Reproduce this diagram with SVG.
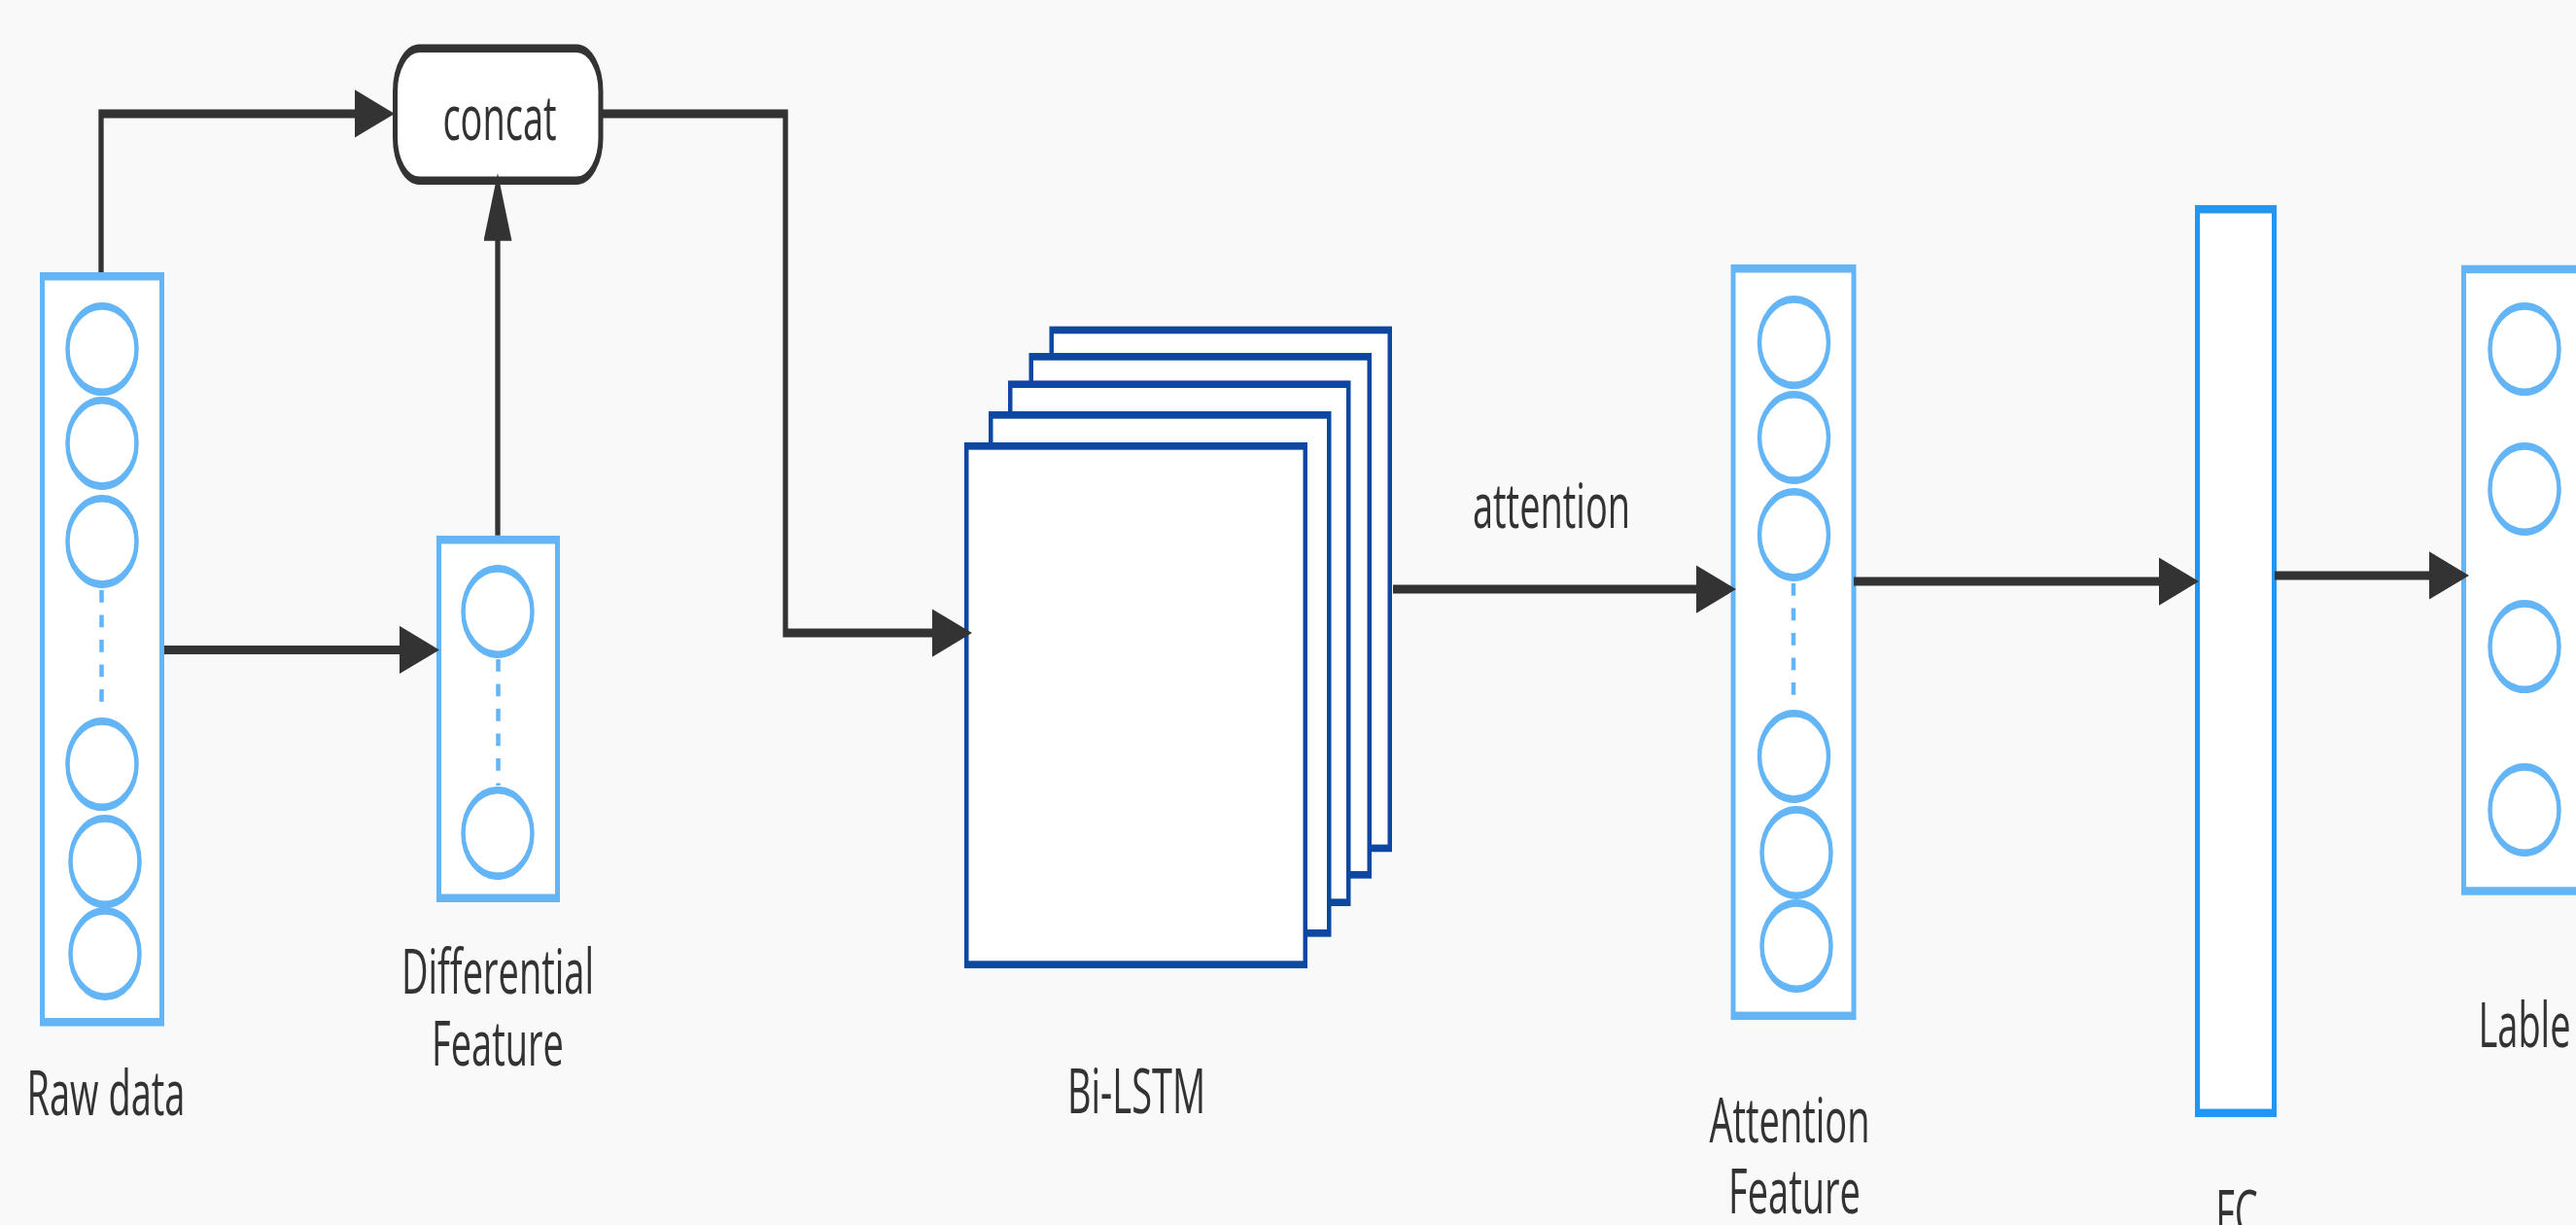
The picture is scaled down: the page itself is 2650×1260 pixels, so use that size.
<svg xmlns="http://www.w3.org/2000/svg" width="2650" height="1260" viewBox="0 0 2650 1260">
  <style>
    .lbl { font-family: "Open Sans", "Liberation Sans", sans-serif; font-size: 38px; fill: #333333; text-anchor: middle; }
    .layer { fill: #ffffff; stroke: #64b5f6; stroke-width: 5; }
    .unit { fill: #ffffff; stroke: #64b5f6; stroke-width: 4.5; }
    .gap { stroke: #64b5f6; stroke-width: 4.5; stroke-dasharray: 7.5 7.5; fill: none; }
    .cell { fill: #ffffff; stroke: #0d47a1; stroke-width: 4.5; }
    .fc { fill: #ffffff; stroke: #2196f3; stroke-width: 5; }
    .op { fill: #ffffff; stroke: #333333; stroke-width: 5; }
    .edge { fill: none; stroke: #333333; stroke-width: 5.3; }
  </style>
  <defs>
    <marker id="arrow" markerUnits="userSpaceOnUse" markerWidth="42" markerHeight="30" refX="6" refY="14.5" orient="auto">
      <path d="M0,0 L41,14.5 L0,29 z" fill="#333333"/>
    </marker>
  </defs>
  <rect x="0" y="0" width="2650" height="1260" fill="#f9f9f9"/>

  <!-- the whole drawing is laid out on a vertically stretched grid -->
  <g transform="scale(1,1.7)">
    <!-- Raw data -->
    <g id="raw-data">
      <rect class="layer" x="43.5" y="167.2" width="123" height="451.2"/>
      <ellipse class="unit" cx="105" cy="211.2" rx="35.5" ry="26"/>
      <ellipse class="unit" cx="105" cy="268.2" rx="35.5" ry="26"/>
      <ellipse class="unit" cx="105" cy="327.6" rx="35.5" ry="26"/>
      <line class="gap" x1="104.5" y1="357" x2="104.5" y2="432"/>
      <ellipse class="unit" cx="105" cy="462.4" rx="35.5" ry="26"/>
      <ellipse class="unit" cx="108" cy="521.2" rx="35.5" ry="26"/>
      <ellipse class="unit" cx="108" cy="577.1" rx="35.5" ry="26"/>
      <text class="lbl" x="109" y="674.7">Raw data</text>
    </g>

    <!-- Differential Feature -->
    <g id="differential-feature">
      <rect class="layer" x="451.5" y="326.6" width="122" height="216.8"/>
      <ellipse class="unit" cx="512" cy="370" rx="35.5" ry="26"/>
      <line class="gap" x1="512.5" y1="398.8" x2="512.5" y2="475.3"/>
      <ellipse class="unit" cx="512" cy="504.1" rx="35.5" ry="26"/>
      <text class="lbl" x="512" y="601.2">Differential</text>
      <text class="lbl" x="512" y="644.7">Feature</text>
    </g>

    <!-- concat -->
    <g id="concat">
      <rect class="op" x="406.5" y="29.3" width="211.5" height="80" rx="25" ry="26"/>
      <text class="lbl" x="514" y="84.7">concat</text>
    </g>

    <!-- Bi-LSTM stack -->
    <g id="bi-lstm">
      <rect class="cell" x="1081.75" y="199.7" width="348" height="313.5"/>
      <rect class="cell" x="1060.75" y="215.8" width="348" height="313.5"/>
      <rect class="cell" x="1039.25" y="232.5" width="348" height="313.5"/>
      <rect class="cell" x="1019.25" y="251.1" width="348" height="313.5"/>
      <rect class="cell" x="994.25" y="269.9" width="348.5" height="313.7"/>
      <text class="lbl" x="1169" y="673.5">Bi-LSTM</text>
    </g>

    <!-- Attention Feature -->
    <g id="attention-feature">
      <rect class="layer" x="1783" y="162.5" width="124" height="452.1"/>
      <ellipse class="unit" cx="1845.5" cy="207.1" rx="35.5" ry="26"/>
      <ellipse class="unit" cx="1845.5" cy="264.7" rx="35.5" ry="26"/>
      <ellipse class="unit" cx="1845.5" cy="323.5" rx="35.5" ry="26"/>
      <line class="gap" x1="1845" y1="352.9" x2="1845" y2="427.1"/>
      <ellipse class="unit" cx="1845.5" cy="457.6" rx="35.5" ry="26"/>
      <ellipse class="unit" cx="1848" cy="515.9" rx="35.5" ry="26"/>
      <ellipse class="unit" cx="1848" cy="572.4" rx="35.5" ry="26"/>
      <text class="lbl" x="1841" y="691.2">Attention</text>
      <text class="lbl" x="1846" y="734.1">Feature</text>
    </g>

    <!-- FC -->
    <g id="fc">
      <rect class="fc" x="2260.5" y="126.6" width="79" height="546.8"/>
      <text class="lbl" x="2301" y="747">FC</text>
    </g>

    <!-- Lable -->
    <g id="lable">
      <rect class="layer" x="2534.5" y="162.9" width="200" height="376.2"/>
      <ellipse class="unit" cx="2597" cy="211.2" rx="35.5" ry="26"/>
      <ellipse class="unit" cx="2597" cy="295.9" rx="35.5" ry="26"/>
      <ellipse class="unit" cx="2597" cy="391.2" rx="35.5" ry="26"/>
      <ellipse class="unit" cx="2597" cy="490" rx="35.5" ry="26"/>
      <text class="lbl" x="2597" y="633.5">Lable</text>
    </g>

    <!-- connectors -->
    <g id="connectors">
      <path class="edge" d="M104,164.7 V68.8 H371" marker-end="url(#arrow)"/>
      <path class="edge" d="M169,393.2 H417" marker-end="url(#arrow)"/>
      <path class="edge" d="M512,324 V139.7" marker-end="url(#arrow)"/>
      <path class="edge" d="M618,68.8 H808 V383 H965" marker-end="url(#arrow)"/>
      <path class="edge" d="M1433,356.5 H1751" marker-end="url(#arrow)"/>
      <path class="edge" d="M1907,351.8 H2227" marker-end="url(#arrow)"/>
      <path class="edge" d="M2340,348.2 H2505" marker-end="url(#arrow)"/>
      <text class="lbl" x="1596" y="319.4">attention</text>
    </g>
  </g>
</svg>
